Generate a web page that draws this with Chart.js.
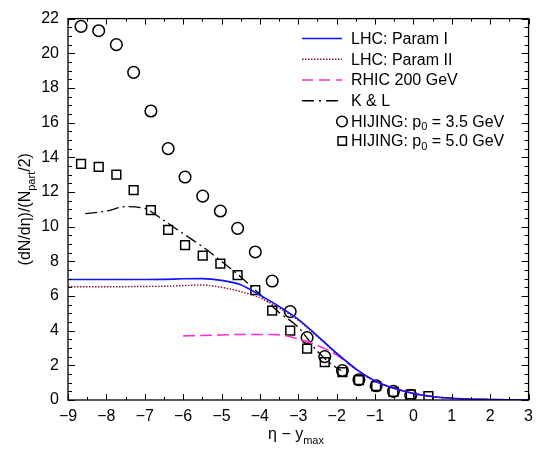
<!DOCTYPE html>
<html>
<head>
<meta charset="utf-8">
<script src="https://cdn.jsdelivr.net/npm/chart.js@4.4.1/dist/chart.umd.min.js"></script>
<style>
  html, body { margin: 0; padding: 0; background: #fff; }
  #chart { display: block; }
</style>
</head>
<body>
<canvas id="chart" width="540" height="451"></canvas>
<script>
const FONT = "'Liberation Sans', Arial, Helvetica, sans-serif";

// HIJING points, x = eta - y_max
const etaHijing = [-8.66, -8.20, -7.74, -7.29, -6.84, -6.39, -5.95, -5.49, -5.03, -4.58, -4.12,
                   -3.68, -3.21, -2.77, -2.31, -1.85, -1.42, -0.97, -0.52, -0.07, 0.39];
const hijing35 = [21.55, 21.3, 20.5, 18.9, 16.67, 14.5, 12.86, 11.76, 10.9, 9.9, 8.54,
                  6.86, 5.1, 3.6, 2.5, 1.7, 1.17, 0.82, 0.5, 0.27];
const hijing50 = [13.62, 13.45, 13.0, 12.1, 10.95, 9.81, 8.94, 8.33, 7.86, 7.2, 6.34,
                  5.15, 4.0, 2.97, 2.18, 1.61, 1.14, 0.8, 0.47, 0.32, 0.23];

// parametrisations
const etaParam = [-9, -8, -7, -6.5, -6, -5.5, -5, -4.5, -4, -3.5, -3, -2.5, -2, -1.5, -1, -0.5, 0, 0.5, 1, 1.5, 2, 2.5, 3];
const lhcParam1 = [6.95, 6.95, 6.95, 6.96, 6.99, 7.0, 6.9, 6.65, 6.05, 5.4, 4.65, 3.7, 2.7, 1.8, 1.1, 0.68, 0.38, 0.2, 0.1, 0.05, 0.03, 0.015, 0.005];
const lhcParam2 = [6.53, 6.53, 6.55, 6.56, 6.6, 6.63, 6.5, 6.25, 5.9, 5.3, 4.6, 3.65, 2.67, 1.78, 1.09, 0.67, 0.37, 0.19, 0.1, 0.05, 0.03, 0.015, 0.005];

const etaRhic = [-6, -5.5, -5, -4.5, -4, -3.5, -3, -2.5, -2, -1.5, -1, -0.5, 0, 0.5, 1, 1.5, 2, 2.5, 3];
const rhic200 = [3.7, 3.72, 3.75, 3.78, 3.78, 3.76, 3.52, 3.15, 2.6, 1.78, 1.1, 0.68, 0.38, 0.2, 0.1, 0.05, 0.03, 0.015, 0.005];

const etaKL = [-8.55, -8, -7.5, -7, -6.5, -6, -5.5, -5, -4.5, -4, -3.5, -3, -2.5, -2, -1.88];
const kAndL = [10.75, 10.9, 11.15, 11.05, 10.35, 9.6, 8.85, 8.0, 7.1, 6.1, 5.05, 4.2, 2.8, 1.85, 1.7];

const xTickValues = [-9, -8, -7, -6, -5, -4, -3, -2, -1, 0, 1, 2, 3];
const yTickValues = [0, 2, 4, 6, 8, 10, 12, 14, 16, 18, 20, 22];

const legendLabels = [
  [{ t: 'LHC: Param I' }],
  [{ t: 'LHC: Param II' }],
  [{ t: 'RHIC 200 GeV' }],
  [{ t: 'K & L' }],
  [{ t: 'HIJING: p' }, { t: '0', sub: true }, { t: ' = 3.5 GeV' }],
  [{ t: 'HIJING: p' }, { t: '0', sub: true }, { t: ' = 5.0 GeV' }]
];

const BLUE = '#1010ff';
const MAROON = '#7a1040';
const MAGENTA = '#ff30d0';

function pts(xs, ys) {
  return ys.map((y, i) => ({ x: xs[i], y: y }));
}

// draws a string with subscripts, parts = [{t, sub}]
function drawRich(ctx, parts, x, y, size, align) {
  const subSize = Math.round(size * 0.68);
  let w = 0;
  parts.forEach(p => {
    ctx.font = (p.sub ? subSize : size) + 'px ' + FONT;
    p.w = ctx.measureText(p.t).width;
    w += p.w;
  });
  let cx = align === 'center' ? x - w / 2 : x;
  parts.forEach(p => {
    ctx.font = (p.sub ? subSize : size) + 'px ' + FONT;
    ctx.fillText(p.t, cx, p.sub ? y + size * 0.3 : y);
    cx += p.w;
  });
}

const framePlugin = {
  id: 'frame',
  afterDatasetsDraw(chart) {
    const { ctx, chartArea: a, scales: { x, y } } = chart;
    ctx.save();
    ctx.strokeStyle = '#000';
    ctx.lineWidth = 1.3;
    ctx.setLineDash([]);
    ctx.strokeRect(a.left, a.top, a.right - a.left, a.bottom - a.top);

    // inward ticks on all four sides
    ctx.beginPath();
    ctx.lineWidth = 1;
    for (let v = x.min; v <= x.max + 1e-9; v += 0.5) {
      const px = Math.round(x.getPixelForValue(v)) + 0.5;
      const len = Number.isInteger(v) ? 6 : 3;
      ctx.moveTo(px, a.bottom); ctx.lineTo(px, a.bottom - len);
      ctx.moveTo(px, a.top); ctx.lineTo(px, a.top + len);
    }
    for (let v = y.min; v <= y.max + 1e-9; v += 0.5) {
      const py = Math.round(y.getPixelForValue(v)) + 0.5;
      const len = v % 2 === 0 ? 7 : 4;
      ctx.moveTo(a.left, py); ctx.lineTo(a.left + len, py);
      ctx.moveTo(a.right, py); ctx.lineTo(a.right - len, py);
    }
    ctx.stroke();

    // axis titles
    ctx.fillStyle = '#000';
    ctx.textBaseline = 'alphabetic';
    ctx.textAlign = 'left';
    drawRich(ctx, [{ t: 'η − y' }, { t: 'max', sub: true }], 296, 439, 16, 'center');
    ctx.save();
    ctx.translate(30, (a.top + a.bottom) / 2);
    ctx.rotate(-Math.PI / 2);
    drawRich(ctx, [{ t: '(dN/dη)/(N' }, { t: 'part', sub: true }, { t: '/2)' }], 0, 0, 16, 'center');
    ctx.restore();

    // legend
    const rowY = [38.5, 59.3, 80, 100.7, 121.5, 141];
    const x0 = 302, x1 = 342, tx = 351;
    const lineStyles = [
      { c: BLUE, d: [], w: 1.6 },
      { c: MAROON, d: [1.5, 1.5], w: 1.4 },
      { c: MAGENTA, d: [11, 6], w: 1.6 },
      { c: '#000', d: [12, 5, 2, 5], w: 1.4 }
    ];
    lineStyles.forEach((s, i) => {
      ctx.beginPath();
      ctx.strokeStyle = s.c;
      ctx.lineWidth = s.w;
      ctx.setLineDash(s.d);
      ctx.moveTo(x0, rowY[i]);
      ctx.lineTo(x1, rowY[i]);
      ctx.stroke();
    });
    ctx.setLineDash([]);
    ctx.strokeStyle = '#000';
    ctx.lineWidth = 1.5;
    ctx.beginPath();
    ctx.arc(342, rowY[4], 5.3, 0, Math.PI * 2);
    ctx.stroke();
    ctx.strokeRect(338, rowY[5] - 4.2, 8.4, 8.4);

    ctx.textBaseline = 'middle';
    legendLabels.forEach((parts, i) => {
      drawRich(ctx, parts, tx, rowY[i] + 1, 16, 'left');
    });
    ctx.restore();
  }
};

const ctx = document.getElementById('chart').getContext('2d');
new Chart(ctx, {
  type: 'scatter',
  data: {
    datasets: [
      {
        label: 'LHC: Param I',
        data: pts(etaParam, lhcParam1),
        showLine: true, borderColor: BLUE, borderWidth: 1.6,
        pointRadius: 0, cubicInterpolationMode: 'monotone'
      },
      {
        label: 'LHC: Param II',
        data: pts(etaParam, lhcParam2),
        showLine: true, borderColor: MAROON, borderWidth: 1.4, borderDash: [1.5, 1.5],
        pointRadius: 0, cubicInterpolationMode: 'monotone'
      },
      {
        label: 'RHIC 200 GeV',
        data: pts(etaRhic, rhic200),
        showLine: true, borderColor: MAGENTA, borderWidth: 1.6, borderDash: [12, 5],
        pointRadius: 0, cubicInterpolationMode: 'monotone'
      },
      {
        label: 'K & L',
        data: pts(etaKL, kAndL),
        showLine: true, borderColor: '#000', borderWidth: 1.3, borderDash: [12, 4, 2, 4],
        pointRadius: 0, cubicInterpolationMode: 'monotone'
      },
      {
        label: 'HIJING: p0 = 3.5 GeV',
        data: pts(etaHijing, hijing35),
        pointStyle: 'circle', pointRadius: 5.8, pointBorderWidth: 1.5,
        borderColor: '#000', backgroundColor: 'rgba(0,0,0,0)'
      },
      {
        label: 'HIJING: p0 = 5.0 GeV',
        data: pts(etaHijing, hijing50),
        pointStyle: 'rect', pointRadius: 6.2, pointBorderWidth: 1.5,
        borderColor: '#000', backgroundColor: 'rgba(0,0,0,0)'
      }
    ]
  },
  options: {
    responsive: false,
    animation: false,
    layout: { padding: { top: 13, right: 7, left: 0, bottom: 0 } },
    plugins: {
      legend: { display: false },
      tooltip: { enabled: false }
    },
    scales: {
      x: {
        type: 'linear',
        min: -9, max: 3,
        afterBuildTicks: s => { s.ticks = xTickValues.map(v => ({ value: v })); },
        afterFit: s => { s.height = 51; },
        grid: { display: false, drawTicks: false },
        border: { display: false },
        ticks: {
          color: '#000', padding: 7,
          font: { family: FONT, size: 16 },
          maxRotation: 0,
          callback: v => v < 0 ? '−' + Math.abs(v) : String(v)
        }
      },
      y: {
        type: 'linear',
        min: 0, max: 22,
        afterBuildTicks: s => { s.ticks = yTickValues.map(v => ({ value: v })); },
        afterFit: s => { s.width = 68; },
        grid: { display: false, drawTicks: false },
        border: { display: false },
        ticks: {
          color: '#000', padding: 9,
          font: { family: FONT, size: 16 }
        }
      }
    }
  },
  plugins: [framePlugin]
});
</script>
</body>
</html>
